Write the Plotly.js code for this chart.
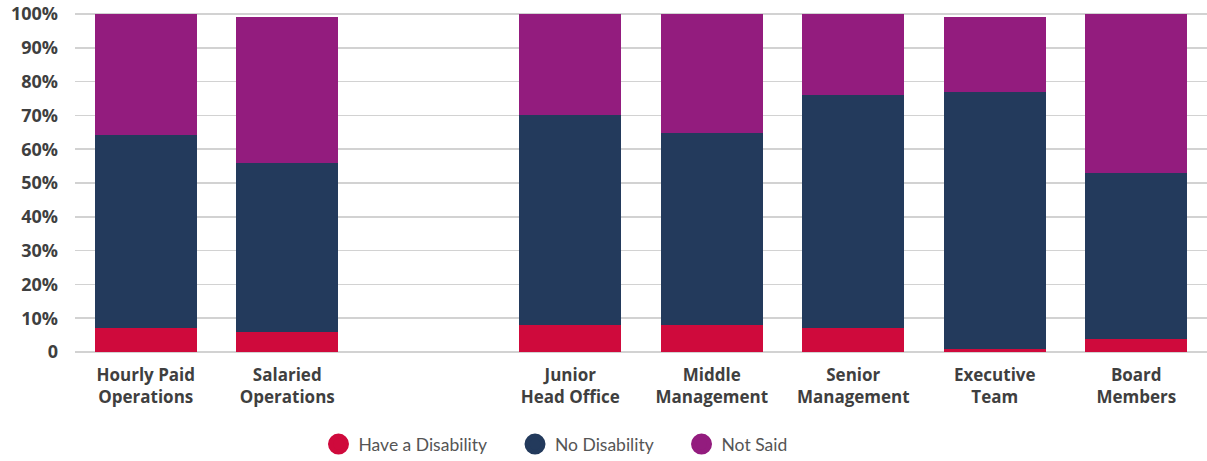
<!DOCTYPE html>
<html>
<head>
<meta charset="utf-8">
<script src="https://cdn.plot.ly/plotly-3.0.1.min.js"></script>
<style>html,body{margin:0;padding:0;background:#fff;}#chart{width:1207px;height:461px;}</style>
</head>
<body>
<div id="chart"></div>
<script>
// Categories (bars), with one empty gap slot between the two groups
const categories = ['Hourly Paid<br>Operations', 'Salaried<br>Operations', 'Junior<br>Head Office', 'Middle<br>Management', 'Senior<br>Management', 'Executive<br>Team', 'Board<br>Members'];
const gapCategory = ' ';
const categoryOrder = [categories[0], categories[1], gapCategory, categories[2], categories[3], categories[4], categories[5], categories[6]];

// Series values (percent)
const haveDisability = [7.1, 5.9, 7.9, 7.9, 7.0, 0.8, 3.8];
const noDisability   = [57.0, 50.1, 62.1, 57.0, 68.9, 76.2, 49.2];
const notSaid        = [35.9, 43.0, 30.0, 35.1, 24.1, 22.0, 47.0];

const seriesNames = ['Have a Disability', 'No Disability', 'Not Said'];
const seriesColors = ['#CF0A3C', '#233A5C', '#931C7E'];
const seriesValues = [haveDisability, noDisability, notSaid];

// Y-axis ticks
const yTickVals = [0, 10, 20, 30, 40, 50, 60, 70, 80, 90, 100];
const yTickText = ['0', '10%', '20%', '30%', '40%', '50%', '60%', '70%', '80%', '90%', '100%'];

const legendIds = ['legend', 'legend2', 'legend3'];
const legendX = [0.2151, 0.3887, 0.5358];

const traces = [];
seriesNames.forEach((name, i) => {
  traces.push({
    type: 'bar',
    x: categories,
    y: seriesValues[i],
    name: name,
    marker: {color: seriesColors[i], line: {width: 0}},
    showlegend: false,
    hoverinfo: 'x+y+name'
  });
});
// Legend entries with circle symbols
seriesNames.forEach((name, i) => {
  traces.push({
    type: 'scatter',
    mode: 'markers',
    x: [null],
    y: [null],
    name: name,
    legend: legendIds[i],
    marker: {color: seriesColors[i], size: 16, symbol: 'circle', line: {color: seriesColors[i], width: 5}},
    showlegend: true,
    hoverinfo: 'skip'
  });
});

const legendFont = {family: 'Lato, sans-serif', size: 17.5, color: '#555555'};
function makeLegend(x) {
  return {
    orientation: 'h',
    x: x,
    xanchor: 'left',
    y: -0.272,
    yanchor: 'middle',
    font: legendFont,
    bgcolor: 'rgba(0,0,0,0)'
  };
}

const layout = {
  width: 1207,
  height: 461,
  margin: {l: 75, r: 0, t: 13, b: 109, autoexpand: false},
  barmode: 'stack',
  bargap: 0.28,
  paper_bgcolor: '#ffffff',
  plot_bgcolor: '#ffffff',
  font: {family: '"Open Sans", sans-serif', color: '#3f3f3f'},
  xaxis: {
    type: 'category',
    categoryorder: 'array',
    categoryarray: categoryOrder,
    range: [-0.5, 7.5],
    showgrid: false,
    showline: false,
    zeroline: false,
    ticks: '',
    ticklabelstandoff: 11,
    tickfont: {family: '"Open Sans", sans-serif', size: 17, color: '#3f3f3f', weight: 'bold'},
    fixedrange: true
  },
  yaxis: {
    range: [0, 100.3],
    tickmode: 'array',
    tickvals: yTickVals,
    ticktext: yTickText,
    showgrid: true,
    gridcolor: '#d2d2d2',
    gridwidth: 1.5,
    zeroline: true,
    zerolinecolor: '#d2d2d2',
    zerolinewidth: 1.5,
    showline: false,
    ticks: '',
    ticklabelstandoff: 16,
    tickfont: {family: '"Open Sans", sans-serif', size: 18, color: '#3f3f3f', weight: 'bold'},
    fixedrange: true
  },
  legend: makeLegend(legendX[0]),
  legend2: makeLegend(legendX[1]),
  legend3: makeLegend(legendX[2])
};

Plotly.newPlot('chart', traces, layout, {displayModeBar: false, staticPlot: true});
</script>
</body>
</html>
